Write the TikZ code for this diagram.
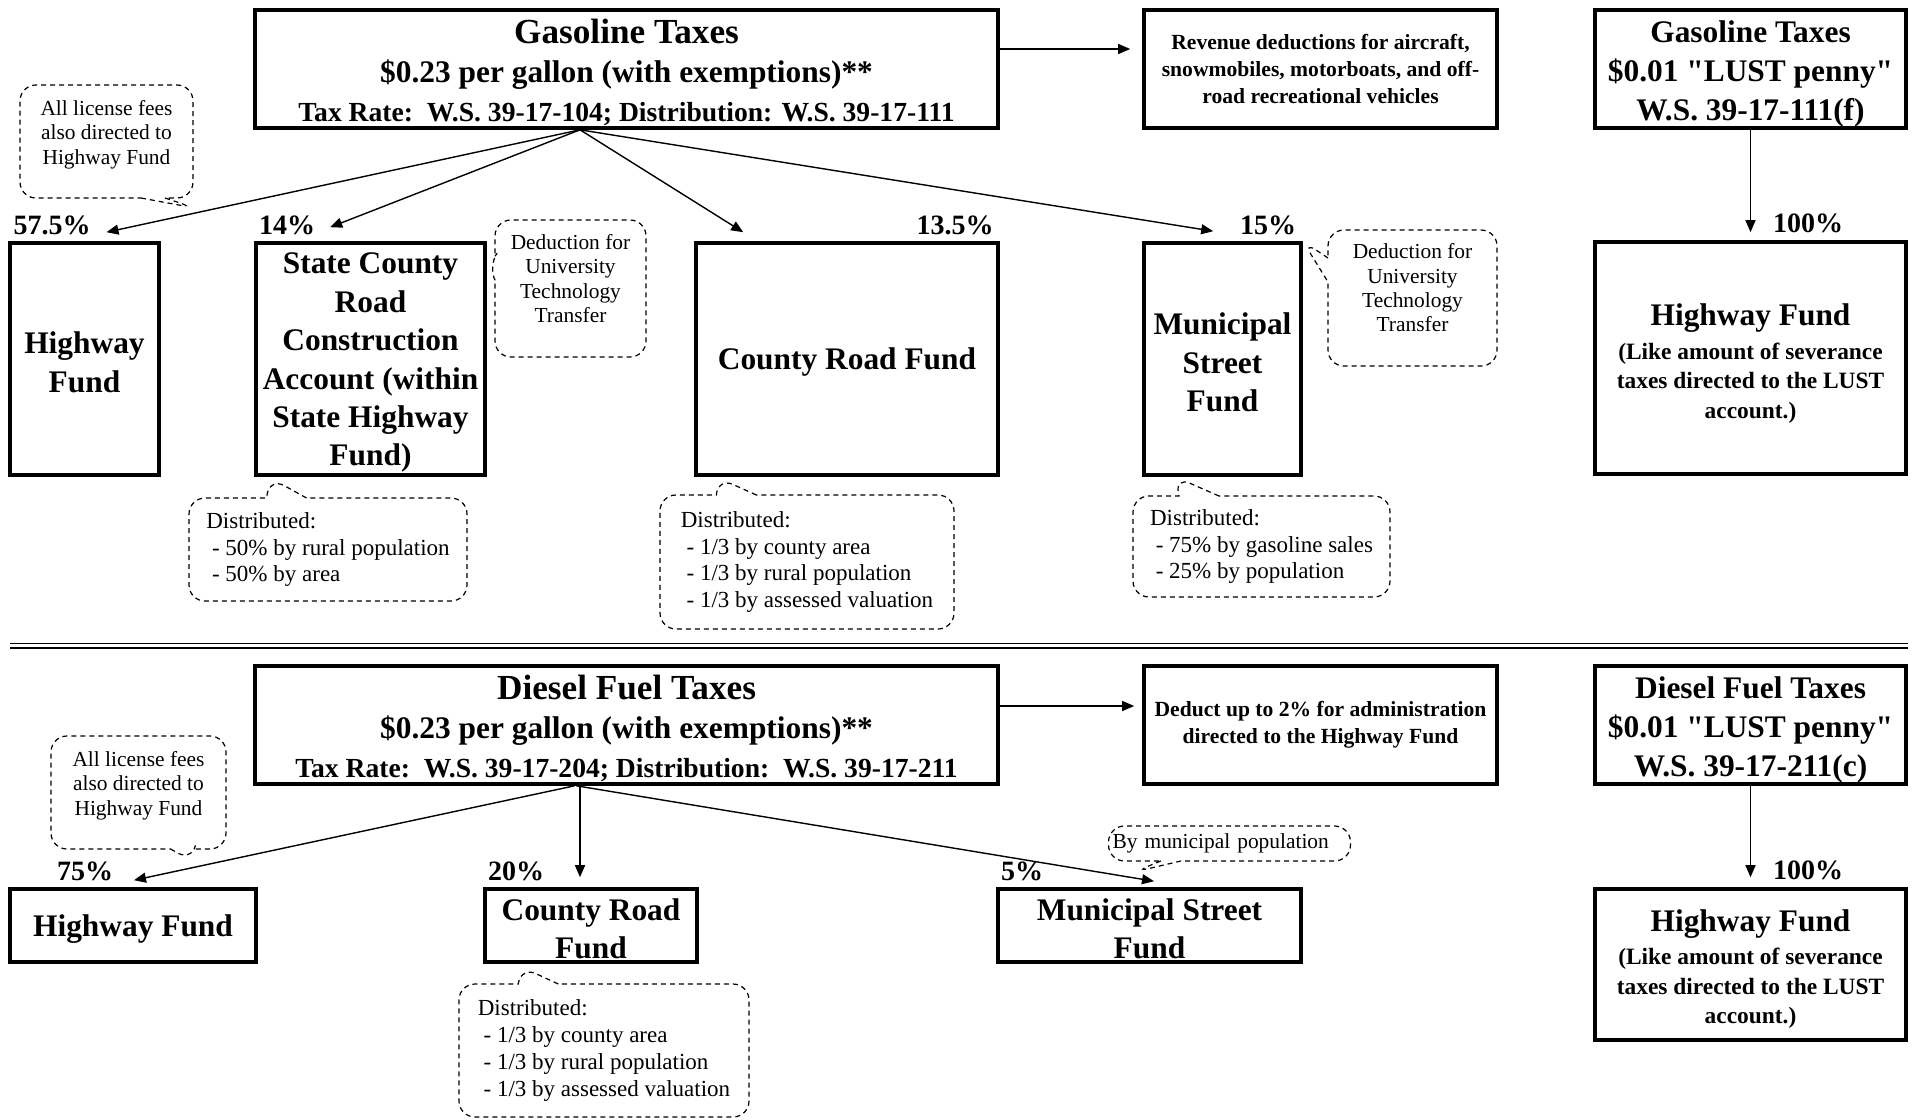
\documentclass[tikz,border=0pt]{standalone}
\usepackage{fontspec}
\setmainfont{Liberation Serif}[Ligatures=TeXOff]
\usetikzlibrary{arrows.meta,shapes.callouts,calc}
\newcommand{\padtop}[1]{\rule{0pt}{#1}}

\begin{document}
\begin{tikzpicture}
        [   x=0.5pt, y=-0.5pt,
            FundBox/.style=
            {rectangle, draw, line width=1.8pt, align=center, inner sep=0pt,
            font=\fontsize{15.7}{19.2}\selectfont\bfseries},
            TaxBox/.style=
            {FundBox, font=\fontsize{15.7}{19.5}\selectfont\bfseries},
            NoteBox/.style=
            {FundBox, font=\fontsize{10.8}{13.4}\selectfont\bfseries},
            LikeBox/.style=
            {FundBox, font=\fontsize{11.7}{14.7}\selectfont\bfseries},
            PctLabel/.style=
            {inner sep=0pt, font=\fontsize{14}{16}\selectfont\bfseries},
            FlowArrow/.style=
            {-{Triangle[length=6pt,width=5pt]}, line width=0.7pt},
            NoteCallout/.style=
            {rectangle callout, draw, dash pattern=on 2.5pt off 2pt,
            line width=0.6pt, rounded corners=8pt, align=center,
            inner sep=0pt, callout pointer width=12pt,
            font=\fontsize{10.7}{12.2}\selectfont},
            SpreadCallout/.style=
            {NoteCallout, align=left, callout pointer width=20pt,
            font=\fontsize{11.5}{13.4}\selectfont}
        ]
            \useasboundingbox (0,0) rectangle (1915,1119);

            % gasoline taxes
            \node[TaxBox, minimum width=371.5pt, minimum height=59pt] (gas) at (626.5,69)
                {{\fontsize{17.6}{19.5}\selectfont\padtop{15.6pt}Gasoline Taxes}\\
                \$0.23 per gallon (with exemptions)**\\
                {\fontsize{13.8}{19.5}\selectfont Tax Rate:\ \ W.S. 39-17-104; Distribution: W.S. 39-17-111}};
            \node[NoteBox, minimum width=176.5pt, minimum height=59pt] (rev) at (1320.5,69)
                {Revenue deductions for aircraft,\\snowmobiles, motorboats, and off-\\road recreational vehicles};
            \node[TaxBox, minimum width=155.5pt, minimum height=59pt] (lustG) at (1750.5,69)
                {\padtop{15.6pt}Gasoline Taxes\\\$0.01 "LUST penny"\\W.S. 39-17-111(f)};

            \node[FundBox, minimum width=74.5pt, minimum height=116pt] (hwG) at (84.5,359)
                {\padtop{14.2pt}Highway\\Fund};
            \node[FundBox, minimum width=114.5pt, minimum height=116pt] (scr) at (370.5,359)
                {\padtop{14.2pt}State County\\Road\\Construction\\Account (within\\State Highway\\Fund)};
            \node[FundBox, minimum width=151pt, minimum height=116pt] (crfG) at (847,359)
                {\padtop{14.2pt}County Road Fund};
            \node[FundBox, minimum width=78.5pt, minimum height=116pt] (msfG) at (1222.5,359)
                {\padtop{14.2pt}Municipal\\Street\\Fund};
            \node[LikeBox, minimum width=155.5pt, minimum height=116pt] (hwGR) at (1750.5,358)
                {{\fontsize{15.7}{19}\selectfont\padtop{16.5pt}Highway Fund}\\[2pt]
                (Like amount of severance\\taxes directed to the LUST\\account.)};

            % diesel fuel taxes
            \node[TaxBox, minimum width=371.5pt, minimum height=59pt] (dsl) at (626.5,725)
                {{\fontsize{17.6}{19.5}\selectfont\padtop{15.6pt}Diesel Fuel Taxes}\\
                \$0.23 per gallon (with exemptions)**\\
                {\fontsize{13.8}{19.5}\selectfont Tax Rate:\ \ W.S. 39-17-204; Distribution:\ \ W.S. 39-17-211}};
            \node[NoteBox, minimum width=176.5pt, minimum height=59pt] (ded) at (1320.5,725)
                {Deduct up to 2\% for administration\\directed to the Highway Fund};
            \node[TaxBox, minimum width=155.5pt, minimum height=59pt] (lustD) at (1750.5,725)
                {\padtop{15.6pt}Diesel Fuel Taxes\\\$0.01 "LUST penny"\\W.S. 39-17-211(c)};

            \node[FundBox, minimum width=123pt, minimum height=36.5pt] (hwD) at (133,925.5)
                {\padtop{14.2pt}Highway Fund};
            \node[FundBox, minimum width=106pt, minimum height=36.5pt] (crfD) at (591,925.5)
                {\padtop{14.2pt}County Road\\Fund};
            \node[FundBox, minimum width=151.5pt, minimum height=36.5pt] (msfD) at (1149.5,925.5)
                {\padtop{14.2pt}Municipal Street\\Fund};
            \node[LikeBox, minimum width=155.5pt, minimum height=75.5pt] (hwDR) at (1750.5,964.5)
                {{\fontsize{15.7}{19}\selectfont\padtop{15.5pt}Highway Fund}\\[2pt]
                (Like amount of severance\\taxes directed to the LUST\\account.)};

            % shares
            \foreach \nm/\x/\y/\pct in {pHwG/52/225/57.5, pScr/287/225/14, pCrfG/955/225/13.5,
                    pMsfG/1268/225/15, pLustG/1808/223.5/100, pHwD/85/871/75,
                    pCrfD/516/871/20, pMsfD/1022/871/5, pLustD/1808/870/100}
                \node[PctLabel] (\nm) at (\x,\y) {\pct\%};

            % arrows
            \coordinate (gOut) at ($(gas.south)+(-46.5,0)$);
            \draw[FlowArrow] (gOut) -- ($(hwG.north)+(22,-9)$);
            \draw[FlowArrow] (gOut) -- ($(scr.north west)+(76,-14)$);
            \draw[FlowArrow] (gOut) -- ($(crfG.north west)+(49,-9)$);
            \draw[FlowArrow] (gOut) -- ($(msfG.north west)+(71,-10)$);
            \draw[FlowArrow] ($(gas.east)+(0,-20)$) -- ($(rev.west)+(-12,-20)$);
            \draw[FlowArrow] (lustG.south) -- ($(hwGR.north)+(0,-8)$);

            \coordinate (dOut) at ($(dsl.south)+(-52,0)$);
            \draw[FlowArrow] (dOut) -- ($(hwD.north)+(1,-7)$);
            \draw[FlowArrow] ($(dsl.south)+(-46.5,0)$) -- ($(crfD.north)+(-11,-10)$);
            \draw[FlowArrow] ($(dsl.south)+(-50,0)$) -- ($(msfD.north)+(4.5,-6)$);
            \draw[FlowArrow] ($(dsl.east)+(0,-19)$) -- ($(ded.west)+(-8,-19)$);
            \draw[FlowArrow] (lustD.south) -- ($(hwDR.north)+(0,-10)$);

            % separator
            \foreach \y in {643.5,648}
                \draw[line width=0.9pt] (10,\y) -- (1908,\y);

            % remarks
            \node[NoteCallout, minimum width=86.5pt, minimum height=56.5pt,
                callout absolute pointer={(195,208)}] (feeG) at (106.5,141.5)
                {All license fees\\also directed to\\Highway Fund\\[-3pt]\mbox{}};
            \node[NoteCallout, minimum width=75.5pt, minimum height=68.5pt,
                callout absolute pointer={($(scr.north east)+(1,25)$)}] (utcS) at (570.5,288.5)
                {Deduction for\\University\\Technology\\Transfer\\[-2pt]\mbox{}};
            \node[NoteCallout, minimum width=84.5pt, minimum height=68pt,
                callout absolute pointer={(msfG.north east)}] (utcM) at (1412.5,298)
                {Deduction for\\University\\Technology\\Transfer\\[-2pt]\mbox{}};
            \node[SpreadCallout, minimum width=139pt, minimum height=51.5pt,
                callout absolute pointer={($(scr.south west)+(16,1)$)}] (distS) at (328,549.5)
                {Distributed:\\\ - 50\% by rural population\\\ - 50\% by area};
            \node[SpreadCallout, minimum width=147pt, minimum height=67pt,
                callout absolute pointer={($(crfG.south west)+(24,1)$)}] (distC) at (807,562)
                {Distributed:\\\ - 1/3 by county area\\\ - 1/3 by rural population\\\ - 1/3 by assessed valuation};
            \node[SpreadCallout, minimum width=128.5pt, minimum height=50.5pt,
                callout absolute pointer={($(msfG.south west)+(33,0)$)}] (distM) at (1261.5,546.5)
                {Distributed:\\\ - 75\% by gasoline sales\\\ - 25\% by population};

            \node[NoteCallout, minimum width=87.5pt, minimum height=56.5pt,
                callout absolute pointer={(192,861)}] (feeD) at (138.5,792.5)
                {All license fees\\also directed to\\Highway Fund\\[-3pt]\mbox{}};
            \node[NoteCallout, align=left, text width=117pt, inner xsep=2pt, minimum height=17.5pt,
                callout pointer width=10pt,
                callout absolute pointer={(1134,872)}] (popM) at (1229.5,843.5)
                {By municipal population};
            \node[SpreadCallout, minimum width=145pt, minimum height=66.5pt,
                callout absolute pointer={($(crfD.south west)+(38,3)$)}] (distD) at (604,1050.5)
                {Distributed:\\\ - 1/3 by county area\\\ - 1/3 by rural population\\\ - 1/3 by assessed valuation};
    \end{tikzpicture}
\end{document}
